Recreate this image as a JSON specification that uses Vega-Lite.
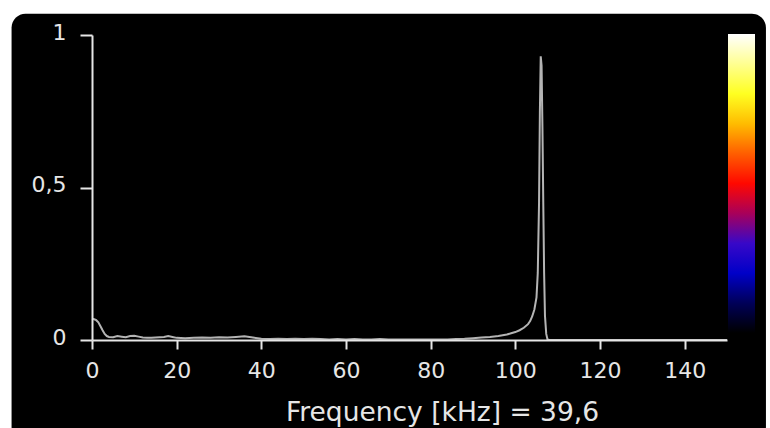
{
  "$schema": "https://vega.github.io/schema/vega-lite/v6.json",
  "autosize": {"type": "none"},
  "width": 635,
  "height": 305,
  "padding": {"left": 92, "top": 35, "right": 43, "bottom": 88},
  "background": "white",
  "config": {
    "view": {"stroke": null},
    "font": "DejaVu Sans"
  },
  "datasets": {
    "spectrum": [
      {"f": 0, "v": 0.07}, {"f": 0.5, "v": 0.068}, {"f": 1, "v": 0.065}, {"f": 1.5, "v": 0.058},
      {"f": 2, "v": 0.045}, {"f": 2.5, "v": 0.032}, {"f": 3, "v": 0.02}, {"f": 3.5, "v": 0.013},
      {"f": 4, "v": 0.01}, {"f": 5, "v": 0.009}, {"f": 6, "v": 0.013}, {"f": 7, "v": 0.011},
      {"f": 8, "v": 0.009}, {"f": 9, "v": 0.013}, {"f": 10, "v": 0.014}, {"f": 11, "v": 0.011},
      {"f": 12, "v": 0.008}, {"f": 13, "v": 0.007}, {"f": 14, "v": 0.007}, {"f": 15, "v": 0.008},
      {"f": 16, "v": 0.009}, {"f": 17, "v": 0.01}, {"f": 18, "v": 0.013}, {"f": 19, "v": 0.01},
      {"f": 20, "v": 0.007}, {"f": 22, "v": 0.006}, {"f": 24, "v": 0.007}, {"f": 26, "v": 0.008},
      {"f": 28, "v": 0.007}, {"f": 30, "v": 0.009}, {"f": 32, "v": 0.008}, {"f": 34, "v": 0.01},
      {"f": 36, "v": 0.012}, {"f": 38, "v": 0.008}, {"f": 40, "v": 0.004}, {"f": 42, "v": 0.003},
      {"f": 44, "v": 0.004}, {"f": 46, "v": 0.003}, {"f": 48, "v": 0.004}, {"f": 50, "v": 0.003},
      {"f": 52, "v": 0.004}, {"f": 54, "v": 0.003}, {"f": 56, "v": 0.002}, {"f": 58, "v": 0.003},
      {"f": 60, "v": 0.002}, {"f": 62, "v": 0.003}, {"f": 64, "v": 0.002}, {"f": 66, "v": 0.002},
      {"f": 68, "v": 0.003}, {"f": 70, "v": 0.002}, {"f": 72, "v": 0.002}, {"f": 74, "v": 0.002},
      {"f": 76, "v": 0.002}, {"f": 78, "v": 0.002}, {"f": 80, "v": 0.002}, {"f": 82, "v": 0.002},
      {"f": 84, "v": 0.002}, {"f": 86, "v": 0.003}, {"f": 88, "v": 0.004}, {"f": 90, "v": 0.006},
      {"f": 92, "v": 0.008}, {"f": 94, "v": 0.01}, {"f": 96, "v": 0.013}, {"f": 98, "v": 0.018},
      {"f": 99, "v": 0.022}, {"f": 100, "v": 0.026}, {"f": 101, "v": 0.032}, {"f": 102, "v": 0.04},
      {"f": 103, "v": 0.052}, {"f": 103.5, "v": 0.062}, {"f": 104, "v": 0.078}, {"f": 104.5, "v": 0.1},
      {"f": 105, "v": 0.14}, {"f": 105.3, "v": 0.22}, {"f": 105.6, "v": 0.45}, {"f": 105.8, "v": 0.75},
      {"f": 106.0, "v": 0.93}, {"f": 106.2, "v": 0.9}, {"f": 106.4, "v": 0.7}, {"f": 106.6, "v": 0.45},
      {"f": 106.8, "v": 0.22}, {"f": 107.0, "v": 0.08}, {"f": 107.3, "v": 0.02}, {"f": 107.6, "v": 0.002},
      {"f": 108, "v": 0}, {"f": 115, "v": 0}, {"f": 130, "v": 0}, {"f": 150, "v": 0}
    ],
    "levels": [{"level": 0}, {"level": 1}]
  },
  "layer": [
    {
      "data": {"values": [{}]},
      "mark": {"type": "rect", "color": "black", "cornerRadius": 14, "clip": false},
      "encoding": {
        "x": {"datum": -19},
        "x2": {"datum": 159.2},
        "y": {"datum": 1.07},
        "y2": {"datum": -0.33}
      }
    },
    {
      "data": {"name": "spectrum"},
      "mark": {"type": "line", "color": "#b4b4b4", "strokeWidth": 2},
      "encoding": {
        "x": {
          "field": "f", "type": "quantitative",
          "scale": {"domain": [0, 150], "nice": false, "zero": false},
          "axis": {
            "zindex": 1,
            "values": [0, 20, 40, 60, 80, 100, 120, 140],
            "domainColor": "#e6e6e6", "domainWidth": 2,
            "tickColor": "#e6e6e6", "tickWidth": 2, "tickSize": 9,
            "labelColor": "#e6e6e6", "labelFontSize": 22, "labelPadding": 11,
            "labelFlush": false, "grid": false,
            "title": "Frequency [kHz] = 39,6",
            "titleColor": "#e6e6e6", "titleFontSize": 26.5, "titleFontWeight": "normal",
            "titleX": 350, "titleY": 80, "titleBaseline": "alphabetic", "titleAlign": "center"
          }
        },
        "y": {
          "field": "v", "type": "quantitative",
          "scale": {"domain": [0, 1], "nice": false},
          "axis": {
            "zindex": 1,
            "values": [0, 0.5, 1],
            "format": "~g",
            "labelExpr": "replace(datum.label, '.', ',')",
            "domainColor": "#e6e6e6", "domainWidth": 2,
            "tickColor": "#e6e6e6", "tickWidth": 2, "tickSize": 12,
            "labelColor": "#e6e6e6", "labelFontSize": 22, "labelPadding": 14,
            "labelOffset": -3, "labelFlush": false, "grid": false, "title": null
          }
        }
      }
    },
    {
      "data": {"name": "levels"},
      "mark": {"type": "point", "opacity": 0, "filled": true},
      "encoding": {
        "color": {
          "field": "level", "type": "quantitative",
          "scale": {
            "domain": [0, 1],
            "interpolate": "rgb",
            "range": ["#000000", "#000058", "#0000c8", "#3808c8", "#a8005a", "#ff0800", "#ff5e00", "#ffbc00", "#ffff21", "#ffff91", "#ffffff"]
          },
          "legend": {
            "orient": "none", "legendX": 636, "legendY": -1, "zindex": 1,
            "direction": "vertical", "gradientLength": 299, "gradientThickness": 27,
            "gradientStrokeWidth": 0, "padding": 0, "title": null,
            "labelOpacity": 0, "labelExpr": "''"
          }
        }
      }
    }
  ]
}
